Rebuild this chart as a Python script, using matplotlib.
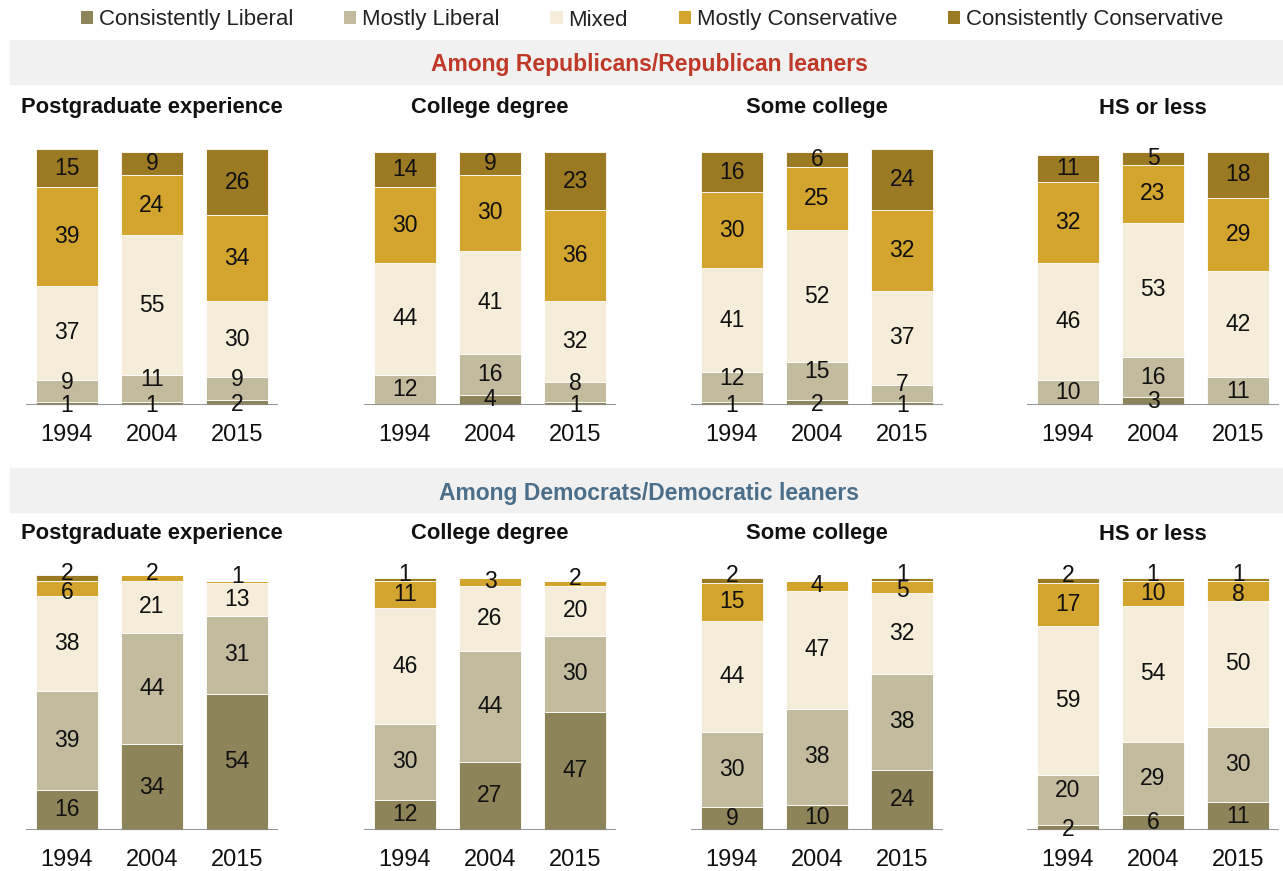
import matplotlib
matplotlib.use('Agg')
import matplotlib.pyplot as plt
from matplotlib.patches import Rectangle, Patch

plt.rcParams['font.family'] = ['Liberation Sans', 'DejaVu Sans']

years = ['1994', '2004', '2015']
groups = ['Postgraduate experience', 'College degree', 'Some college', 'HS or less']
categories = ['Consistently Liberal', 'Mostly Liberal', 'Mixed',
              'Mostly Conservative', 'Consistently Conservative']
colors = ['#8e845a', '#c2bb9e', '#f5edd9', '#d3a52f', '#9c7a24']

# Republicans/Republican leaners: one list per group, values for 1994, 2004, 2015
rep_cons_lib = [[1, 1, 2], [0, 4, 1], [1, 2, 1], [0, 3, 0]]
rep_most_lib = [[9, 11, 9], [12, 16, 8], [12, 15, 7], [10, 16, 11]]
rep_mixed = [[37, 55, 30], [44, 41, 32], [41, 52, 37], [46, 53, 42]]
rep_most_cons = [[39, 24, 34], [30, 30, 36], [30, 25, 32], [32, 23, 29]]
rep_cons_cons = [[15, 9, 26], [14, 9, 23], [16, 6, 24], [11, 5, 18]]

# Democrats/Democratic leaners
dem_cons_lib = [[16, 34, 54], [12, 27, 47], [9, 10, 24], [2, 6, 11]]
dem_most_lib = [[39, 44, 31], [30, 44, 30], [30, 38, 38], [20, 29, 30]]
dem_mixed = [[38, 21, 13], [46, 26, 20], [44, 47, 32], [59, 54, 50]]
dem_most_cons = [[6, 2, 1], [11, 3, 2], [15, 4, 5], [17, 10, 8]]
dem_cons_cons = [[2, 0, 0], [1, 0, 0], [2, 0, 1], [2, 1, 1]]

rep_series = [rep_cons_lib, rep_most_lib, rep_mixed, rep_most_cons, rep_cons_cons]
dem_series = [dem_cons_lib, dem_most_lib, dem_mixed, dem_most_cons, dem_cons_cons]

W, H = 1283, 871
fig = plt.figure(figsize=(W / 100, H / 100), dpi=100)

panel_left = [26, 364, 691, 1027]
panel_w = 252
NUM_FS = 16.5
YEAR_FS = 17
TITLE_FS = 15.8


def draw_panel(ax, series, g):
    x = list(range(len(years)))
    bottoms = [0] * len(years)
    # index of last nonzero segment per bar (for nudging tiny top labels)
    last = []
    for j in range(len(years)):
        k = max(i for i in range(len(series)) if series[i][g][j] > 0)
        last.append(k)
    for i, s in enumerate(series):
        vals = s[g]
        ax.bar(x, vals, width=0.73, bottom=bottoms, color=colors[i],
               edgecolor='white', linewidth=0.6, clip_on=False, zorder=2)
        for j, v in enumerate(vals):
            if v <= 0:
                continue
            dy = 0
            if v <= 2 and i == last[j]:
                dy = 5
            elif v <= 2 and bottoms[j] == 0:
                dy = -2
            elif i == 1 and 0 < series[0][g][j] <= 2:
                # keep clear of the tiny label sitting on the baseline
                dy = 9
            elif i == last[j] - 1 and series[last[j]][g][j] <= 2 and v <= 9:
                dy = -4
            ax.annotate(str(v), (j, bottoms[j] + v / 2), xytext=(0, dy),
                        textcoords='offset pixels', ha='center', va='center',
                        fontsize=NUM_FS, color='#111111', zorder=4)
        bottoms = [b + v for b, v in zip(bottoms, vals)]
    ax.axhline(0, color='#8a8a8a', lw=2, zorder=3)
    ax.set_xlim(-0.48, 2.48)
    ax.set_ylim(0, 100)
    ax.set_xticks(x)
    ax.set_xticklabels(years, fontsize=YEAR_FS, color='#111111')
    ax.tick_params(axis='x', length=0, pad=13.5)
    ax.set_yticks([])
    for sp in ax.spines.values():
        sp.set_visible(False)
    ax.patch.set_alpha(0)


rows = [
    (rep_series, 405, 253, 62, 'Among Republicans/Republican leaners', '#bf3927', 108),
    (dem_series, 830, 252, 490, 'Among Democrats/Democratic leaners', '#4b6e8a', 534),
]

for series, base_px, h_px, band_mid, header, hcolor, title_y in rows:
    # grey header band
    band = Rectangle((10 / W, 1 - (band_mid + 22) / H), (W - 10) / W, 44 / H,
                     transform=fig.transFigure, color='#f1f1f1', zorder=0)
    fig.patches.append(band)
    fig.text(649 / W, 1 - (band_mid + 3) / H, header, ha='center', va='center',
             fontsize=16.5, fontweight='bold', color=hcolor)
    for g, left in enumerate(panel_left):
        ax = fig.add_axes([left / W, 1 - base_px / H, panel_w / W, h_px / H])
        draw_panel(ax, series, g)
        fig.text((left + panel_w / 2) / W, 1 - title_y / H, groups[g],
                 ha='center', va='center', fontsize=TITLE_FS,
                 fontweight='bold', color='#111111')

handles = [Patch(facecolor=c, edgecolor='none') for c in colors]
fig.legend(handles, categories, loc='center', bbox_to_anchor=(652 / W, 1 - 20 / H),
           ncol=5, frameon=False, fontsize=16, handlelength=0.55, handleheight=0.55,
           handletextpad=0.25, columnspacing=2.3, borderaxespad=0,
           labelcolor='#222222')

fig.savefig('out.png', dpi=100)
